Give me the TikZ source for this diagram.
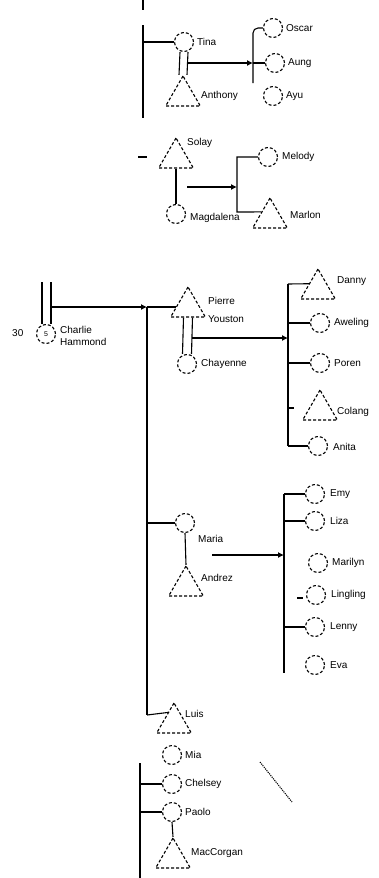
\documentclass[tikz,border=0pt]{standalone}
\usepackage{fontspec}
\setmainfont{Liberation Sans}
\usetikzlibrary{shapes.geometric, arrows.meta}
\begin{document}
\begin{tikzpicture}[x=1pt,y=-1pt,
  fem/.style={circle, draw, densely dashed, minimum size=19pt, inner sep=0pt, line width=1.1pt},
  tri/.style={regular polygon, regular polygon sides=3, draw, densely dashed, minimum size=40pt, inner sep=0pt, line width=1.1pt},
  lbl/.style={anchor=west, inner sep=0pt, font=\fontsize{10}{12}\selectfont},
  ln/.style={line width=1.1pt},
  arr/.style={line width=1.1pt, -{Latex[length=6pt,width=6pt]}},
]
\fill[white] (0,0) rectangle (378,878);
\useasboundingbox (0,0) rectangle (378,878);

% ---------- top family ----------
\coordinate (tt1) at (143,0); \coordinate (tt2) at (143,10);
\draw[ln] (tt1) -- (tt2);
\coordinate (trA) at (143,25); \coordinate (trB) at (143,118);
\draw[ln] (trA) -- (trB);
\node[fem] (Tina) at (184,42) {};
\node[lbl] at (197,42) {Tina};
\draw[ln] (trA |- Tina) -- (Tina.west);
\node[tri] (Anthony) at (183,96) {};
\node[lbl] at (201,96) {Anthony};
\draw[ln] ([xshift=-4pt]Tina.south) -- ([xshift=-4pt]Anthony.north);
\draw[ln] ([xshift=4pt]Tina.south) -- ([xshift=4pt]Anthony.north);
\coordinate (m1) at (188,63);
\coordinate (v1t) at (253,28); \coordinate (v1b) at (253,83);
\node[fem] (Oscar) at (273,28) {};
\node[fem] (Aung) at (275,63) {};
\node[fem] (Ayu) at (273,96) {};
\node[lbl] at (286,28) {Oscar};
\node[lbl] at (288,63) {Aung};
\node[lbl] at (286,96) {Ayu};
\draw[arr] (m1) -- (v1t |- m1);
\draw[ln, rounded corners=5pt] (v1b) |- (Oscar.west);
\draw[ln] (v1t |- Aung.west) -- (Aung.west);

% ---------- second family ----------
\coordinate (tk1) at (138,157); \coordinate (tk2) at (147,157);
\draw[ln] (tk1) -- (tk2);
\node[tri] (Solay) at (176,158) {};
\node[lbl] at (187,143) {Solay};
\node[fem] (Magdalena) at (176,214) {};
\node[lbl] at (190,218) {Magdalena};
\draw[ln] (Solay.south) -- (Magdalena.north);
\coordinate (m2) at (187,187);
\coordinate (v2t) at (237,157); \coordinate (v2b) at (237,212);
\node[fem] (Melody) at (268,157) {};
\node[lbl] at (282,157) {Melody};
\node[tri] (Marlon) at (270,218) {};
\node[lbl] at (290,215) {Marlon};
\draw[arr] (m2) -- (v2t |- m2);
\draw[ln] (Melody.west) -| (v2b) -- (Marlon.145);

% ---------- Charlie ----------
\node[lbl] at (12,333) {30};
\node[fem] (Charlie) at (46,334) {\fontsize{7}{7}\selectfont 5};
\node[lbl, anchor=north west, align=left] at (60,326) {Charlie\\Hammond};
\coordinate (ch1) at (42,282); \coordinate (ch2) at (51,282);
\draw[ln] (ch1) -- (ch1 |- Charlie.north);
\draw[ln] (ch2) -- (ch2 |- Charlie.north);
\coordinate (m3) at (51,307);
\coordinate (trT) at (147,307); \coordinate (trL) at (147,715);
\draw[arr] (m3) -- (trT);
\draw[ln] (trT) -- (trL);

% ---------- Pierre ----------
\node[tri] (Pierre) at (188,307) {};
\node[lbl] at (208,301) {Pierre};
\node[lbl] at (208,319) {Youston};
\draw[ln] (trT) -- (Pierre.west);
\node[fem] (Chayenne) at (187,364) {};
\node[lbl] at (201,364) {Chayenne};
\draw[ln] ([xshift=-4.5pt]Pierre.south) -- ([xshift=-4.5pt]Chayenne.north);
\draw[ln] ([xshift=4.5pt]Pierre.south) -- ([xshift=4.5pt]Chayenne.north);
\coordinate (m4) at (192,338);
\coordinate (v4t) at (288,284); \coordinate (v4b) at (288,446);
\draw[arr] (m4) -- (v4t |- m4);
\draw[ln] (v4t) -- (v4b);
\node[tri] (Danny) at (318,289) {};
\node[fem] (Aweling) at (320,323) {};
\node[fem] (Poren) at (320,363) {};
\node[tri] (Colang) at (320,410) {};
\node[fem] (Anita) at (318,446) {};
\node[lbl] at (337,281) {Danny};
\node[lbl] at (334,323) {Aweling};
\node[lbl] at (334,363) {Poren};
\node[lbl] at (337,412) {Colang};
\node[lbl] at (333,447) {Anita};
\draw[ln] (v4t) -- (Danny.150);
\draw[ln] (v4t |- Aweling.west) -- (Aweling.west);
\draw[ln] (v4t |- Poren.west) -- (Poren.west);
\coordinate (tk3a) at (288,408); \coordinate (tk3b) at (294,408);
\draw[ln] (tk3a) -- (tk3b);
\draw[ln] (v4b) -- (Anita.west);

% ---------- Maria ----------
\node[fem] (Maria) at (185,523) {};
\node[lbl] at (198,539) {Maria};
\draw[ln] (trT |- Maria.west) -- (Maria.west);
\node[tri] (Andrez) at (186,586) {};
\node[lbl] at (201,578) {Andrez};
\draw[ln] (Maria.south) -- (Andrez.north);
\coordinate (m5) at (212,555);
\coordinate (v5t) at (284,494); \coordinate (v5b) at (284,673);
\draw[arr] (m5) -- (v5t |- m5);
\draw[ln] (v5t) -- (v5b);
\node[fem] (Emy) at (315,494) {};
\node[fem] (Liza) at (315,521) {};
\node[fem] (Marilyn) at (318,563) {};
\node[fem] (Lingling) at (316,595) {};
\node[fem] (Lenny) at (315,627) {};
\node[fem] (Eva) at (315,665) {};
\node[lbl] at (330,494) {Emy};
\node[lbl] at (330,521) {Liza};
\node[lbl] at (332,563) {Marilyn};
\node[lbl] at (331,595) {Lingling};
\node[lbl] at (330,627) {Lenny};
\node[lbl] at (330,665) {Eva};
\draw[ln] (v5t) -- (Emy.west);
\draw[ln] (v5t |- Liza.west) -- (Liza.west);
\coordinate (tk4a) at (297,598); \coordinate (tk4b) at (303,598);
\draw[ln] (tk4a) -- (tk4b);
\draw[ln] (v5t |- Lenny.west) -- (Lenny.west);

% ---------- bottom ----------
\node[tri] (Luis) at (174,723) {};
\node[lbl] at (185,714) {Luis};
\draw[ln] (trL) -- (Luis.120);
\node[fem] (Mia) at (172,755) {};
\node[lbl] at (185,755) {Mia};
\coordinate (v6t) at (140,763); \coordinate (v6b) at (140,878);
\draw[ln] (v6t) -- (v6b);
\node[fem] (Chelsey) at (172,784) {};
\node[lbl] at (185,784) {Chelsey};
\node[fem] (Paolo) at (172,812) {};
\node[lbl] at (185,812) {Paolo};
\draw[ln] (v6t |- Chelsey.west) -- (Chelsey.west);
\draw[ln] (v6t |- Paolo.west) -- (Paolo.west);
\node[tri] (MacCorgan) at (173,858) {};
\node[lbl] at (191,853) {MacCorgan};
\draw[ln] (Paolo.south) -- (MacCorgan.north);

\coordinate (d1) at (260,762); \coordinate (d2) at (292,802);
\draw[densely dotted, line width=1.1pt] (d1) -- (d2);
\end{tikzpicture}
\end{document}
